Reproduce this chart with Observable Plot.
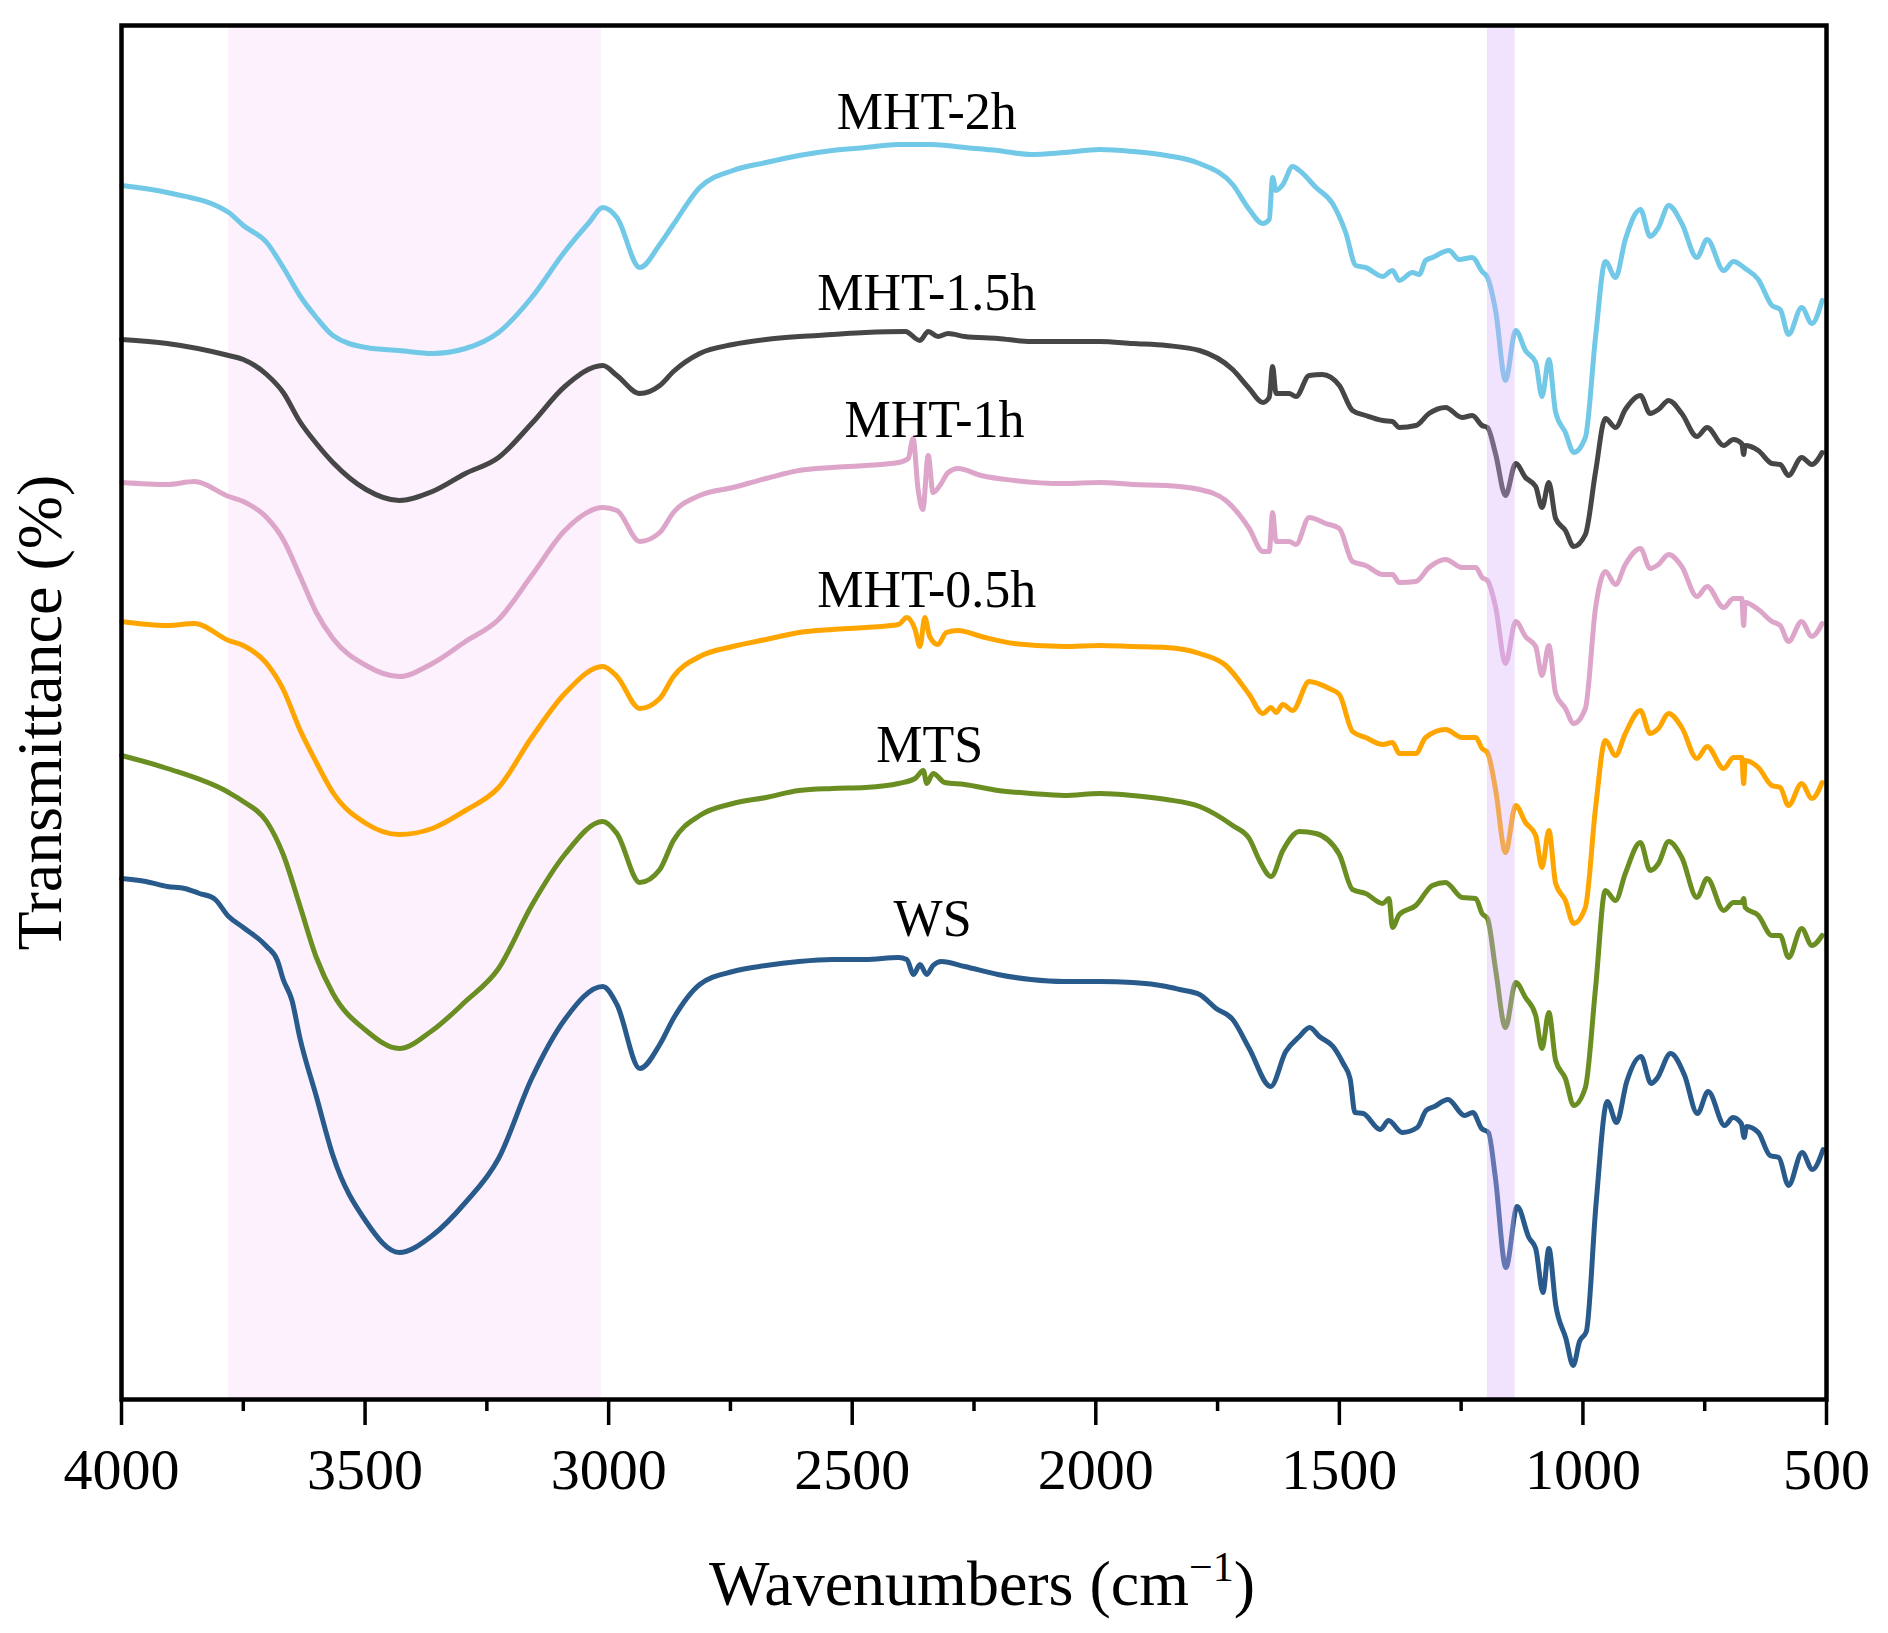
<!DOCTYPE html>
<html>
<head>
<meta charset="utf-8">
<script src="https://cdn.jsdelivr.net/npm/d3@7"></script>
<script src="https://cdn.jsdelivr.net/npm/@observablehq/plot@0.6"></script>
<style>
  html, body { margin: 0; padding: 0; background: #ffffff; }
</style>
</head>
<body>
<div id="chart"></div>
<script>
// ---- data (x = wavenumber in cm-1, y = transmittance read as vertical position, arbitrary units: larger = lower) ----
const seriesNames = ["MHT-2h", "MHT-1.5h", "MHT-1h", "MHT-0.5h", "MTS", "WS"];
const seriesColors = ["#72c9e7", "#464646", "#dca5c9", "#ffa500", "#6b8e23", "#285a8c"];

const MHT2h = [[4000,185],[3906,192],[3780,212],[3750,225],[3702,242],[3668,267],[3634,295],[3600,317],[3566,335],[3498,347],[3430,350],[3362,353],[3294,348],[3226,332],[3158,297],[3090,251],[3040,222],[3012,207],[2983,217],[2936,267],[2895,244],[2867,224],[2813,187],[2745,170],[2677,162],[2609,155],[2541,150],[2473,147],[2405,144],[2337,144],[2269,147],[2201,150],[2133,154],[2065,152],[1992,149],[1924,151],[1855,155],[1787,163],[1719,184],[1685,209],[1657,223],[1644,219],[1637,177],[1630,190],[1616,184],[1596,166],[1582,170],[1548,187],[1514,203],[1487,232],[1466,265],[1446,267],[1411,276],[1391,270],[1377,280],[1350,272],[1336,274],[1323,260],[1309,257],[1275,250],[1254,259],[1227,257],[1207,271],[1196,277],[1179,311],[1159,380],[1138,330],[1118,350],[1097,362],[1084,396],[1070,359],[1056,412],[1036,432],[1019,452],[995,437],[974,336],[954,261],[933,277],[913,239],[882,209],[862,236],[845,227],[824,205],[797,223],[766,257],[745,239],[711,270],[691,261],[667,268],[640,279],[612,305],[595,309],[578,334],[551,307],[530,323],[509,300]];

const MHT15h = [[4000,339],[3906,343],[3780,355],[3750,359],[3702,374],[3668,392],[3634,421],[3600,443],[3566,462],[3498,489],[3430,500],[3362,491],[3294,473],[3226,457],[3158,423],[3090,386],[3012,365],[2983,375],[2936,393],[2895,385],[2867,371],[2813,353],[2745,344],[2677,339],[2609,336],[2541,334],[2473,332],[2391,331],[2361,340],[2344,331],[2324,336],[2303,333],[2269,336],[2201,338],[2133,341],[2065,341],[1992,341],[1924,343],[1855,345],[1787,350],[1719,369],[1685,388],[1657,402],[1644,397],[1637,366],[1630,393],[1603,393],[1589,396],[1562,375],[1535,374],[1500,385],[1473,410],[1446,415],[1411,420],[1391,421],[1377,427],[1343,425],[1316,413],[1282,407],[1248,417],[1227,415],[1207,425],[1196,427],[1179,454],[1159,495],[1138,463],[1118,477],[1097,486],[1084,507],[1070,482],[1056,518],[1036,530],[1019,546],[995,534],[974,471],[954,418],[933,427],[913,409],[882,395],[862,413],[845,409],[824,400],[797,413],[766,436],[745,427],[711,445],[691,439],[674,443],[670,454],[667,445],[640,450],[612,463],[595,464],[578,475],[551,457],[530,464],[509,452]];

const MHT1h = [[4000,482],[3906,484],[3850,481],[3780,496],[3750,501],[3702,517],[3668,539],[3634,575],[3600,612],[3566,638],[3498,665],[3430,676],[3362,663],[3294,641],[3226,619],[3158,575],[3090,530],[3012,507],[2983,510],[2936,541],[2895,532],[2867,512],[2813,495],[2745,487],[2677,478],[2609,470],[2541,467],[2473,465],[2405,462],[2385,458],[2375,438],[2365,488],[2355,509],[2344,455],[2334,492],[2320,485],[2303,472],[2283,468],[2235,475],[2167,480],[2065,483],[1992,482],[1924,484],[1855,485],[1787,489],[1733,500],[1685,528],[1657,551],[1644,551],[1637,512],[1630,541],[1603,541],[1589,544],[1562,517],[1528,523],[1500,528],[1473,561],[1446,565],[1411,574],[1391,574],[1377,582],[1343,581],[1316,567],[1282,559],[1248,567],[1220,567],[1207,577],[1196,580],[1179,607],[1159,663],[1138,621],[1118,636],[1097,646],[1084,675],[1070,645],[1056,693],[1036,708],[1019,723],[995,708],[974,607],[954,571],[933,584],[913,564],[882,548],[862,568],[845,564],[824,554],[797,566],[766,596],[745,586],[711,607],[691,598],[674,598],[670,625],[667,602],[640,609],[612,621],[595,625],[578,641],[551,621],[530,636],[509,623]];

const MHT05h = [[4000,621],[3906,625],[3850,623],[3780,640],[3750,645],[3702,663],[3668,689],[3634,729],[3600,762],[3566,792],[3498,823],[3430,834],[3362,828],[3294,810],[3226,787],[3158,737],[3090,693],[3012,666],[2983,676],[2936,708],[2895,698],[2867,676],[2813,656],[2745,646],[2677,639],[2609,632],[2541,629],[2473,627],[2405,624],[2388,617],[2371,629],[2361,646],[2351,617],[2341,636],[2324,644],[2307,632],[2283,630],[2235,636],[2167,643],[2065,646],[1992,645],[1924,646],[1855,647],[1787,653],[1733,665],[1685,694],[1657,713],[1640,707],[1630,712],[1616,704],[1596,710],[1562,681],[1521,688],[1500,694],[1473,731],[1446,737],[1411,744],[1391,742],[1377,753],[1343,753],[1323,737],[1282,729],[1248,737],[1220,737],[1207,748],[1196,752],[1179,790],[1159,852],[1138,805],[1118,822],[1097,835],[1084,867],[1070,830],[1056,883],[1036,900],[1019,923],[995,907],[974,807],[954,740],[933,755],[913,733],[882,710],[862,733],[845,728],[824,713],[797,727],[766,758],[745,746],[711,768],[691,757],[674,757],[670,783],[667,760],[640,767],[612,785],[595,787],[578,805],[551,783],[530,798],[509,782]];

const MTS = [[4000,755],[3906,768],[3780,792],[3750,801],[3702,821],[3668,854],[3634,905],[3600,957],[3566,993],[3498,1030],[3430,1048],[3362,1030],[3294,1001],[3226,968],[3158,905],[3090,854],[3012,821],[2983,833],[2936,882],[2895,869],[2867,840],[2813,815],[2745,803],[2677,797],[2609,790],[2541,788],[2473,787],[2405,783],[2371,778],[2354,770],[2347,783],[2334,773],[2310,782],[2269,784],[2201,790],[2133,793],[2065,795],[1992,793],[1924,795],[1855,799],[1787,806],[1719,825],[1685,838],[1664,860],[1640,876],[1616,850],[1582,831],[1548,833],[1500,854],[1473,889],[1446,893],[1411,903],[1398,898],[1391,927],[1377,914],[1343,905],[1309,885],[1282,882],[1248,897],[1220,898],[1207,913],[1196,918],[1179,970],[1159,1027],[1138,982],[1118,997],[1097,1015],[1084,1048],[1070,1012],[1056,1060],[1036,1078],[1019,1105],[995,1087],[974,987],[954,890],[933,900],[913,873],[882,842],[862,870],[845,863],[824,841],[797,857],[766,897],[745,878],[711,910],[691,902],[674,902],[670,898],[667,907],[640,915],[612,935],[595,935],[578,957],[551,928],[530,945],[509,935]];

const WS = [[4000,878],[3950,881],[3906,886],[3870,888],[3840,893],[3810,898],[3780,916],[3750,927],[3702,946],[3680,960],[3668,979],[3650,1000],[3634,1037],[3600,1096],[3566,1155],[3498,1221],[3430,1252],[3362,1235],[3294,1202],[3226,1158],[3158,1078],[3090,1019],[3012,986],[2983,1004],[2936,1068],[2895,1044],[2867,1018],[2813,984],[2745,971],[2677,965],[2609,961],[2541,959],[2473,959],[2405,957],[2388,959],[2374,974],[2361,964],[2347,974],[2334,965],[2317,961],[2269,966],[2201,974],[2133,979],[2065,981],[1992,981],[1924,982],[1855,986],[1828,989],[1787,994],[1753,1008],[1719,1019],[1685,1048],[1641,1086],[1610,1051],[1582,1036],[1561,1027],[1541,1036],[1513,1046],[1492,1063],[1478,1078],[1468,1112],[1451,1113],[1416,1129],[1399,1120],[1371,1132],[1340,1127],[1322,1110],[1305,1106],[1277,1099],[1243,1115],[1226,1112],[1208,1128],[1194,1132],[1180,1176],[1158,1267],[1135,1206],[1111,1237],[1097,1248],[1082,1292],[1070,1248],[1056,1304],[1035,1338],[1020,1365],[1007,1341],[993,1331],[973,1203],[950,1101],[931,1122],[910,1081],[881,1056],[860,1083],[848,1078],[820,1053],[792,1074],[765,1113],[743,1091],[709,1125],[692,1117],[675,1123],[669,1137],[664,1126],[640,1132],[616,1155],[598,1157],[578,1185],[550,1152],[529,1169],[507,1149]];

const seriesData = [MHT2h, MHT15h, MHT1h, MHT05h, MTS, WS];

// curve labels (wavenumber, vertical position)
const labelX = [2347, 2347, 2331, 2347, 2341, 2335];
const labelY = [112, 293, 420, 590, 745, 919];

// highlighted wavenumber ranges
const pinkBand = [[3780, 3015]];
const purpleBand = [[1196, 1139]];

// x axis ticks
const majorTicks = [4000, 3500, 3000, 2500, 2000, 1500, 1000, 500];
const minorTicks = [3750, 3250, 2750, 2250, 1750, 1250, 750];

// ---- build ----
const rows = [];
seriesData.forEach((s, i) => {
  const sorted = s.slice().sort((a, b) => a[0] - b[0]);
  sorted.forEach(([x, y]) => rows.push({name: seriesNames[i], x, y}));
});
const labels = seriesNames.map((n, i) => ({name: n, x: labelX[i], y: labelY[i]}));

const plot = Plot.plot({
  width: 1888,
  height: 1633,
  marginLeft: 121,
  marginRight: 62,
  marginTop: 25,
  marginBottom: 234,
  style: {fontFamily: '"Liberation Serif", "Times New Roman", serif', fontSize: "58px", color: "#000", background: "#fff"},
  x: {domain: [4000, 500], label: null},
  y: {domain: [25, 1399], reverse: true, axis: null},
  color: {domain: seriesNames, range: seriesColors},
  marks: [
    Plot.rect(pinkBand, {x1: d => d[0], x2: d => d[1], fill: "#fdf1fd"}),
    Plot.line(rows, {x: "x", y: "y", z: "name", stroke: "name", strokeWidth: 5, curve: "monotone-x", strokeLinejoin: "round", strokeLinecap: "round"}),
    Plot.rect(purpleBand, {x1: d => d[0], x2: d => d[1], fill: "rgb(215,175,250)", fillOpacity: 0.35}),
    Plot.text(labels, {x: "x", y: "y", text: "name", fontSize: 52, lineAnchor: "middle", fill: "#000"}),
    Plot.axisX({ticks: majorTicks, tickSize: 26, tickPadding: 22, tickFormat: d => String(d), strokeWidth: 3.5, fontSize: 58, label: null}),
    Plot.axisX({ticks: minorTicks, tickSize: 12, tickFormat: () => "", strokeWidth: 3.5, label: null}),
    Plot.frame({stroke: "#000", strokeWidth: 4.5}),
    Plot.text(["Transmittance (%)"], {text: d => d, frameAnchor: "left", textAnchor: "middle", dx: -81, rotate: -90, fontSize: 64, lineAnchor: "middle", fill: "#000"}),
    Plot.text(["Wavenumbers (cm"], {text: d => d, frameAnchor: "bottom", textAnchor: "middle", dx: 8, dy: 185, fontSize: 64, lineAnchor: "middle", fill: "#000"})
  ]
});

document.getElementById("chart").appendChild(plot);

// superscript for the unit
d3.select(plot).selectAll("text").filter(function () { return this.textContent === "Wavenumbers (cm"; }).each(function () {
  const t = d3.select(this);
  t.text(null);
  t.append("tspan").text("Wavenumbers (cm");
  t.append("tspan").attr("dy", "-24px").attr("font-size", "42px").text("\u22121");
  t.append("tspan").attr("dy", "24px").attr("font-size", "64px").text(")");
});
</script>
</body>
</html>
